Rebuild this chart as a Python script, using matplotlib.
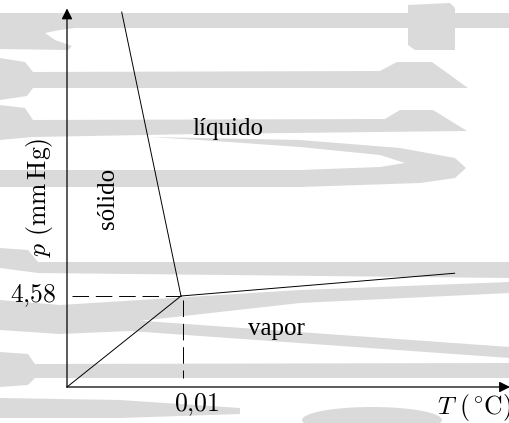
import matplotlib.pyplot as plt
from matplotlib.patches import Polygon, Ellipse

plt.rcParams['mathtext.fontset'] = 'cm'
plt.rcParams['axes.unicode_minus'] = False

# diagrama de fases (esquema), unidades arbitrarias: punto triple en (1, 1)
triple_T = 1.0
triple_p = 1.0
fusion_T = [triple_T, 0.48]
fusion_p = [triple_p, 4.12]
vapor_T = [triple_T, 3.40]
vapor_p = [triple_p, 1.25]
subl_T = [0.0, triple_T]
subl_p = [0.0, triple_p]

tick_T_label = '0,01'
tick_p_label = '4,58'
regiones = {'sólido': (0.36, 2.07), 'líquido': (1.41, 2.83), 'vapor': (1.84, 0.64)}

W, H = 510, 423
fig = plt.figure(figsize=(W / 100, H / 100), dpi=100)

#+------------------------------------------------------+#
# marca de agua gris de fondo (coordenadas en pixeles)
bg = fig.add_axes([0, 0, 1, 1], zorder=0)
bg.set_xlim(0, W)
bg.set_ylim(H, 0)
bg.axis('off')
gris = '#dadada'
formas = [
    [(0, 13), (510, 13), (510, 28), (75, 28), (60, 30), (45, 33), (55, 40), (72, 46), (68, 50), (0, 49)],
    [(408, 5), (450, 3), (455, 8), (455, 50), (415, 50), (408, 45)],
    [(0, 58), (25, 62), (33, 72), (380, 71), (397, 62), (432, 62), (468, 88), (33, 88), (27, 96), (0, 100)],
    [(0, 105), (25, 108), (33, 120), (385, 119), (400, 110), (433, 110), (467, 131), (200, 134), (33, 137), (0, 140)],
    [(150, 137), (300, 140), (400, 148), (455, 158), (466, 168), (455, 178), (420, 183), (300, 187),
     (0, 187), (0, 170), (300, 170), (380, 167), (405, 163), (380, 155), (300, 147), (200, 140)],
    [(0, 248), (28, 250), (38, 262), (510, 262), (510, 278), (38, 273), (0, 268)],
    [(0, 300), (60, 305), (300, 290), (510, 282), (510, 293), (300, 303), (130, 322), (60, 327), (0, 323)],
    [(0, 312), (60, 318), (130, 320), (510, 347), (510, 358), (130, 331), (60, 334), (0, 330)],
    [(0, 352), (28, 354), (35, 364), (510, 363), (510, 378), (35, 378), (28, 385), (0, 387)],
    [(0, 398), (120, 400), (240, 408), (240, 414), (120, 418), (0, 418)],
]
for f in formas:
    bg.add_patch(Polygon(f, closed=True, color=gris, lw=0))
bg.add_patch(Ellipse((372, 420), 140, 26, color=gris, lw=0))

#+------------------------------------------------------+#
ax = fig.add_axes([0, 0, 1, 1], zorder=1)
ax.patch.set_alpha(0)
ax.set_xlim(-67 / 114, (W - 67) / 114)
ax.set_ylim(-(H - 387) / 91, 387 / 91)
ax.axis('off')

# ejes con flecha
flecha = dict(arrowstyle='-|>', mutation_scale=16, lw=0.9, color='k', shrinkA=0, shrinkB=0)
ax.annotate('', xy=(3.886, 0), xytext=(0, 0), arrowprops=flecha)
ax.annotate('', xy=(0, 4.16), xytext=(0, 0), arrowprops=flecha)

# curvas de equilibrio
ax.plot(fusion_T, fusion_p, color='k', lw=0.7)
ax.plot(vapor_T, vapor_p, color='k', lw=0.7)
ax.plot(subl_T, subl_p, color='k', lw=0.7)

# lineas de trazos al punto triple
ax.plot([0.044, triple_T], [triple_p, triple_p], color='k', lw=0.7, dashes=(17, 7))
ax.plot([triple_T + 0.018, triple_T + 0.018], [triple_p - 0.045, 0.1], color='k', lw=0.7, dashes=(17, 7))

fs = 18.5
ax.text(-0.09, triple_p, r'$\mathrm{%s}$' % tick_p_label.replace(',', '{,}'),
        ha='right', va='center', fontsize=fs)
ax.text(triple_T + 0.14, -0.19, r'$\mathrm{%s}$' % tick_T_label.replace(',', '{,}'),
        ha='center', va='center', fontsize=fs)
ax.text(3.57, -0.23, r'$T\ (^\circ\!\mathrm{C})$', ha='center', va='center', fontsize=fs)
ax.text(-0.24, 2.09, r'$p\ (\mathrm{mm\,Hg})$', ha='center', va='center', fontsize=fs, rotation=90)

# nombres de las fases (Times)
fr = 18
ax.text(*regiones['sólido'], 'sólido', ha='center', va='center', fontsize=fr, rotation=90,
        family='Liberation Serif')
ax.text(*regiones['líquido'], 'líquido', ha='center', va='center', fontsize=fr,
        family='Liberation Serif')
ax.text(*regiones['vapor'], 'vapor', ha='center', va='center', fontsize=fr,
        family='Liberation Serif')

fig.savefig('out.png', dpi=100)
